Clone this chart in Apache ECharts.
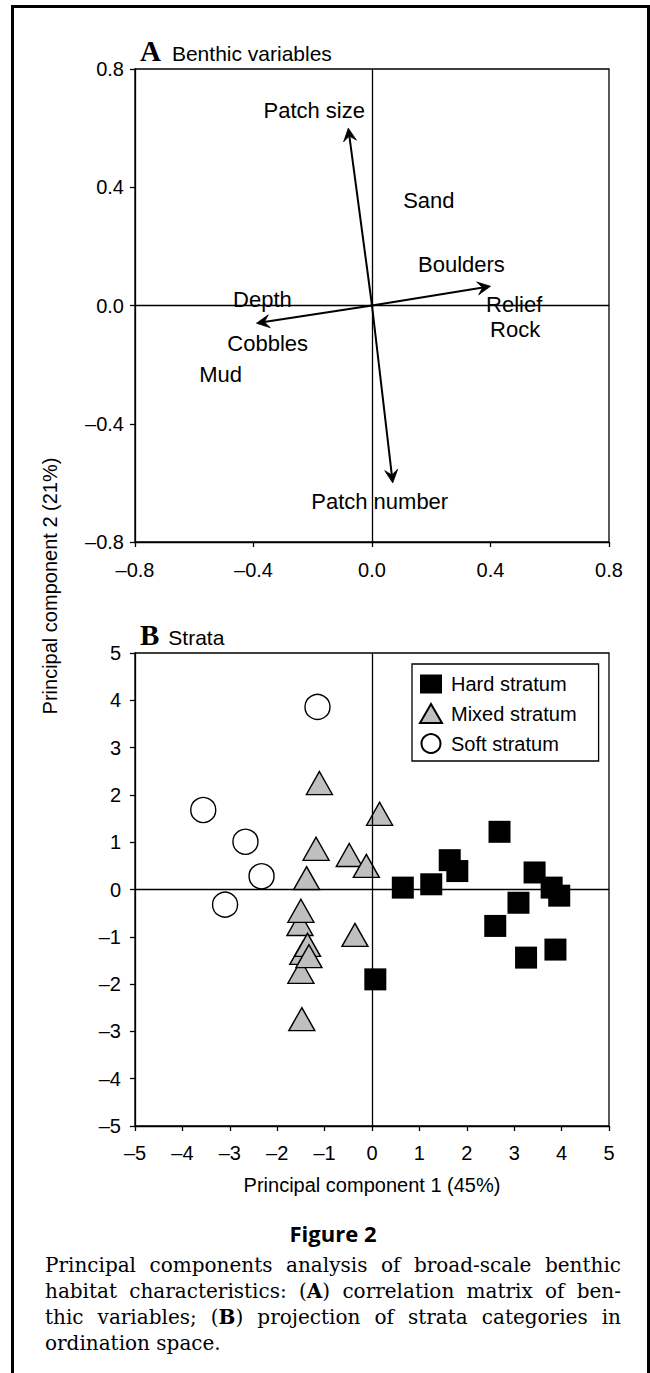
<!DOCTYPE html>
<html>
<head>
<meta charset="utf-8">
<script src="https://cdn.jsdelivr.net/npm/echarts@6/dist/echarts.min.js"></script>
<style>
html,body{margin:0;padding:0;background:#fff;}
body{width:650px;height:1373px;position:relative;overflow:hidden;}
#chart{position:absolute;left:0;top:0;width:650px;height:1215px;}
#frame{position:absolute;left:11px;top:5px;width:639px;height:1420px;box-sizing:border-box;border:3px solid #000;border-bottom:none;pointer-events:none;}
#fig{position:absolute;left:0;width:666px;top:1218px;text-align:center;font-family:'Open Sans',sans-serif;font-weight:bold;font-size:22px;line-height:30px;color:#000;}
#cap{position:absolute;left:45px;width:576px;top:1252px;font-family:'DejaVu Serif',serif;font-size:20px;line-height:26px;color:#000;}
#cap .j{text-align:justify;text-align-last:justify;}
#cap b{font-weight:bold;}
</style>
</head>
<body>
<div id="chart"></div>
<div id="frame"></div>
<div id="fig">Figure 2</div>
<div id="cap">
<div class="j">Principal components analysis of broad-scale benthic</div>
<div class="j">habitat characteristics: (<b>A</b>) correlation matrix of ben-</div>
<div class="j">thic variables; (<b>B</b>) projection of strata categories in</div>
<div>ordination space.</div>
</div>
<script>
// ---------- Panel A: benthic variables ----------
const arrowNames = ['Patch size', 'Boulders / Relief', 'Depth / Cobbles', 'Patch number'];
const arrowX = [-0.08, 0.40, -0.39, 0.07];
const arrowY = [0.60, 0.065, -0.06, -0.60];

const varNames = ['Patch size', 'Sand', 'Boulders', 'Relief', 'Rock', 'Depth', 'Cobbles', 'Mud', 'Patch number'];
const varX = [-0.195, 0.192, 0.302, 0.480, 0.483, -0.370, -0.352, -0.511, 0.026];
const varY = [0.661, 0.355, 0.137, 0.002, -0.081, 0.019, -0.130, -0.232, -0.664];

const ticksA = [-0.8, -0.4, 0.0, 0.4, 0.8];

// ---------- Panel B: strata ----------
const hardX = [0.65, 1.25, 1.64, 1.80, 2.69, 3.43, 3.79, 3.95, 3.09, 2.60, 3.25, 3.87, 0.07];
const hardY = [0.04, 0.11, 0.62, 0.39, 1.22, 0.36, 0.04, -0.13, -0.28, -0.77, -1.44, -1.27, -1.90];

const mixedX = [-1.11, 0.16, -1.18, -0.48, -0.12, -1.38, -1.52, -1.50, -0.36, -1.46, -1.50, -1.36, -1.33, -1.48];
const mixedY = [2.25, 1.60, 0.86, 0.73, 0.50, 0.24, -0.73, -0.45, -0.96, -1.34, -1.74, -1.17, -1.41, -2.74];

const softX = [-1.15, -3.56, -2.67, -2.33, -3.10];
const softY = [3.86, 1.68, 1.01, 0.28, -0.32];

const ticksB = [-5, -4, -3, -2, -1, 0, 1, 2, 3, 4, 5];

const seriesNames = ['Hard stratum', 'Mixed stratum', 'Soft stratum'];

const SANS = '"Liberation Sans", Arial, Helvetica, sans-serif';
const SERIF = '"Liberation Serif", "Times New Roman", serif';
const minus = s => String(s).replace('-', '\u2013');

function axisCommon(fmt, margin) {
  return {
    type: 'value',
    axisLine: { show: true, onZero: false, lineStyle: { color: '#000', width: 1.3 } },
    axisTick: { show: true, inside: false, length: 5, lineStyle: { color: '#000', width: 1.3 } },
    splitLine: { show: false },
    axisLabel: { show: true, color: '#000', fontSize: 20, fontFamily: SANS, margin: margin, formatter: fmt }
  };
}
const fmtA = v => minus(Number(v).toFixed(1));
const fmtB = v => minus(Math.round(v));

const chart = echarts.init(document.getElementById('chart'), null, { renderer: 'svg' });

function panelTitle(letter, text, top, gap) {
  return {
    text: '{a|' + letter + '}{b|' + text + '}', left: 135, top: top,
    textStyle: { fontWeight: 'normal', rich: {
      a: { fontFamily: SERIF, fontWeight: 'bold', fontSize: 29, color: '#000', lineHeight: 30, verticalAlign: 'bottom', padding: [0, gap, 0, 0] },
      b: { fontFamily: SANS, fontWeight: 'normal', fontSize: 21, color: '#000', lineHeight: 30, verticalAlign: 'bottom', padding: [0, 0, 1, 0] }
    } }
  };
}

const option = {
  animation: false,
  backgroundColor: 'transparent',
  title: [ panelTitle('A', 'Benthic variables', 30, 11), panelTitle('B', 'Strata', 614, 9) ],
  grid: [
    { left: 135, top: 69, width: 474, height: 473, show: true, borderColor: '#000', borderWidth: 1.3, backgroundColor: 'transparent' },
    { left: 135, top: 653, width: 474, height: 473, show: true, borderColor: '#000', borderWidth: 1.3, backgroundColor: 'transparent' }
  ],
  xAxis: [
    Object.assign(axisCommon(fmtA, 18), { gridIndex: 0, min: ticksA[0], max: ticksA[ticksA.length - 1], interval: 0.4 }),
    Object.assign(axisCommon(fmtB, 17), { gridIndex: 1, min: ticksB[0], max: ticksB[ticksB.length - 1], interval: 1,
      name: 'Principal component 1 (45%)', nameLocation: 'middle', nameGap: 49,
      nameTextStyle: { color: '#000', fontSize: 20, fontFamily: SANS } })
  ],
  yAxis: [
    Object.assign(axisCommon(fmtA, 11), { gridIndex: 0, min: ticksA[0], max: ticksA[ticksA.length - 1], interval: 0.4 }),
    Object.assign(axisCommon(fmtB, 14), { gridIndex: 1, min: ticksB[0], max: ticksB[ticksB.length - 1], interval: 1 })
  ],
  legend: {
    orient: 'vertical', left: 412, top: 664,
    padding: [10, 22, 7, 7], itemWidth: 22, itemHeight: 19, itemGap: 9,
    borderColor: '#000', borderWidth: 1.3, borderRadius: 0, backgroundColor: '#fff',
    selectedMode: false,
    textStyle: { fontSize: 20, color: '#000', fontFamily: SANS, padding: [0, 0, 0, 4] },
    data: seriesNames
  },
  graphic: [
    { type: 'text', x: 50, y: 586, rotation: Math.PI / 2, silent: true,
      style: { text: 'Principal component 2 (21%)', fontSize: 20, fontFamily: SANS, fill: '#000', align: 'center', verticalAlign: 'middle' } }
  ],
  series: [
    // zero cross lines, panel A
    { type: 'line', xAxisIndex: 0, yAxisIndex: 0, data: [], z: 1, silent: true,
      markLine: { silent: true, symbol: ['none', 'none'], label: { show: false },
        lineStyle: { color: '#000', width: 1.3, type: 'solid' },
        data: [{ xAxis: 0 }, { yAxis: 0 }] } },
    // arrows
    { type: 'custom', xAxisIndex: 0, yAxisIndex: 0, silent: true, z: 3,
      data: arrowX.map((x, i) => ({ name: arrowNames[i], value: [x, arrowY[i]] })),
      renderItem: function (params, api) {
        const o = api.coord([0, 0]);
        const e = api.coord([api.value(0), api.value(1)]);
        const dx = e[0] - o[0], dy = e[1] - o[1];
        const len = Math.sqrt(dx * dx + dy * dy);
        const ux = dx / len, uy = dy / len, px = -uy, py = ux;
        const L = 13, W = 6.5, N = 8;
        const b1 = [e[0] - ux * L + px * W, e[1] - uy * L + py * W];
        const b2 = [e[0] - ux * L - px * W, e[1] - uy * L - py * W];
        const n = [e[0] - ux * N, e[1] - uy * N];
        return { type: 'group', children: [
          { type: 'line', shape: { x1: o[0], y1: o[1], x2: e[0] - ux * 6, y2: e[1] - uy * 6 }, style: { stroke: '#000', lineWidth: 2 } },
          { type: 'polygon', shape: { points: [e, b1, n, b2] }, style: { fill: '#000', stroke: '#000', lineWidth: 0.8 } }
        ] };
      } },
    // variable labels
    { type: 'scatter', xAxisIndex: 0, yAxisIndex: 0, silent: true, z: 4,
      symbolSize: 1, itemStyle: { color: 'transparent' },
      data: varX.map((x, i) => ({ name: varNames[i], value: [x, varY[i]] })),
      label: { show: true, position: 'inside', formatter: p => p.name, color: '#000', opacity: 1,
        textBorderWidth: 0, textBorderColor: 'transparent', fontSize: 22, fontFamily: SANS } },
    // zero cross lines, panel B
    { type: 'line', xAxisIndex: 1, yAxisIndex: 1, data: [], z: 1, silent: true,
      markLine: { silent: true, symbol: ['none', 'none'], label: { show: false },
        lineStyle: { color: '#000', width: 1.3, type: 'solid' },
        data: [{ xAxis: 0 }, { yAxis: 0 }] } },
    { name: seriesNames[0], type: 'scatter', xAxisIndex: 1, yAxisIndex: 1, z: 3,
      symbol: 'rect', symbolSize: 22,
      itemStyle: { color: '#000', borderColor: '#000', borderWidth: 0, opacity: 1 },
      data: hardX.map((x, i) => [x, hardY[i]]) },
    { name: seriesNames[1], type: 'scatter', xAxisIndex: 1, yAxisIndex: 1, z: 3,
      symbol: 'triangle', symbolSize: [26, 23],
      itemStyle: { color: '#bfbfbf', borderColor: '#000', borderWidth: 1.4, opacity: 1 },
      data: mixedX.map((x, i) => [x, mixedY[i]]) },
    { name: seriesNames[2], type: 'scatter', xAxisIndex: 1, yAxisIndex: 1, z: 3,
      symbol: 'circle', symbolSize: 25,
      itemStyle: { color: '#fff', borderColor: '#000', borderWidth: 1.4, opacity: 1 },
      data: softX.map((x, i) => [x, softY[i]]) }
  ]
};
chart.setOption(option);
</script>
</body>
</html>
